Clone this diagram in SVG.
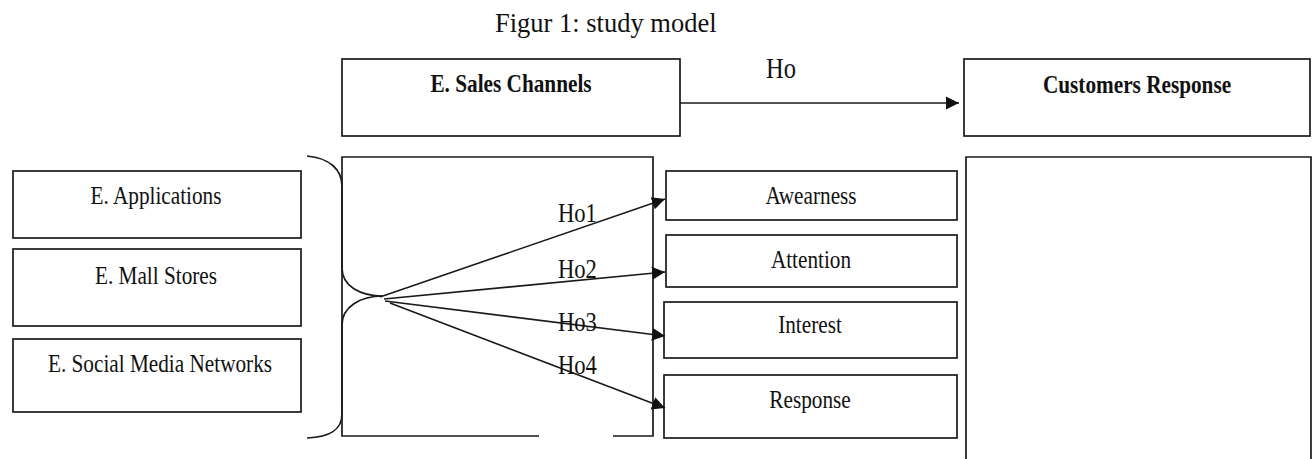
<svg xmlns="http://www.w3.org/2000/svg" width="1313" height="459" viewBox="0 0 1313 459">
  <style>
    .box { fill: #ffffff; stroke: #1a1a1a; stroke-width: 1.7; }
    .open { fill: none; stroke: #1a1a1a; stroke-width: 1.7; }
    .wire { fill: none; stroke: #1a1a1a; stroke-width: 1.6; }
    text { font-family: "Liberation Serif", "Times New Roman", serif; fill: #111111; }
    .title { font-size: 26.5px; }
    .lbl { font-size: 25px; text-anchor: middle; }
    .bold { font-weight: bold; }
    .hyp { font-size: 26.6px; }
  </style>
  <defs>
    <marker id="head" markerUnits="userSpaceOnUse" markerWidth="14" markerHeight="14" viewBox="0 0 14 14" refX="13" refY="7" orient="auto">
      <path d="M0,0.5 L13,7 L0,13.5 Z" fill="#111111"/>
    </marker>
  </defs>

  <text class="title" x="495" y="32">Figur 1: study model</text>

  <!-- top row -->
  <g id="sales-channels">
    <rect class="box" x="342" y="59" width="338" height="77"/>
    <text class="lbl bold" transform="translate(511,92) scale(0.85,1)">E. Sales Channels</text>
  </g>
  <g id="customers-response">
    <rect class="box" x="964" y="59" width="346" height="77"/>
    <text class="lbl bold" transform="translate(1137,93) scale(0.85,1)">Customers Response</text>
  </g>

  <!-- independent variables -->
  <g id="applications">
    <rect class="box" x="13" y="171" width="288" height="67"/>
    <text class="lbl" transform="translate(156,204) scale(0.85,1)">E. Applications</text>
  </g>
  <g id="mall-stores">
    <rect class="box" x="13" y="249" width="288" height="77"/>
    <text class="lbl" transform="translate(156,284) scale(0.85,1)">E. Mall Stores</text>
  </g>
  <g id="social-media">
    <rect class="box" x="13" y="339" width="288" height="73"/>
    <text class="lbl" transform="translate(160,372) scale(0.85,1)">E. Social Media Networks</text>
  </g>

  <!-- frame holding the hypothesis arrows, open at the bottom -->
  <g id="hypotheses-frame">
    <path class="open" d="M539,436 L342,436 L342,157 L653,157 L653,436 L613,436"/>
  </g>

  <!-- brace grouping the three channels -->
  <g id="brace">
    <path class="open" d="M307,156 C330,158 342,170 342,186 L342,268 C342,286 360,296 383,296 C360,296 342,307 342,325 L342,414 C342,430 330,437 307,438"/>
  </g>

  <!-- dependent variables -->
  <g id="awareness">
    <rect class="box" x="666" y="171" width="291" height="49"/>
    <text class="lbl" transform="translate(811,204) scale(0.85,1)">Awearness</text>
  </g>
  <g id="attention">
    <rect class="box" x="666" y="235" width="291" height="52"/>
    <text class="lbl" transform="translate(811,268) scale(0.85,1)">Attention</text>
  </g>
  <g id="interest">
    <rect class="box" x="664" y="302" width="293" height="56"/>
    <text class="lbl" transform="translate(810,333) scale(0.85,1)">Interest</text>
  </g>
  <g id="response">
    <rect class="box" x="664" y="375" width="293" height="63"/>
    <text class="lbl" transform="translate(810,408) scale(0.85,1)">Response</text>
  </g>

  <!-- tall panel on the right, running past the bottom edge -->
  <g id="response-panel">
    <path class="open" d="M966,462 L966,157 L1311,157 L1311,462"/>
  </g>

  <!-- connectors -->
  <g id="connectors">
    <line class="wire" x1="680" y1="103" x2="959" y2="103" marker-end="url(#head)"/>
    <line class="wire" x1="380" y1="297" x2="665" y2="199" marker-end="url(#head)"/>
    <line class="wire" x1="384" y1="299" x2="665" y2="272" marker-end="url(#head)"/>
    <line class="wire" x1="385" y1="301" x2="665" y2="336" marker-end="url(#head)"/>
    <line class="wire" x1="390" y1="303" x2="665" y2="408" marker-end="url(#head)"/>
  </g>

  <!-- hypothesis labels -->
  <text class="hyp" style="font-size:28.8px" transform="translate(766,78) scale(0.85,1)">Ho</text>
  <text class="hyp" transform="translate(558,222) scale(0.85,1)">Ho1</text>
  <text class="hyp" transform="translate(558,278) scale(0.85,1)">Ho2</text>
  <text class="hyp" transform="translate(558,331) scale(0.85,1)">Ho3</text>
  <text class="hyp" transform="translate(558,374) scale(0.85,1)">Ho4</text>
</svg>
